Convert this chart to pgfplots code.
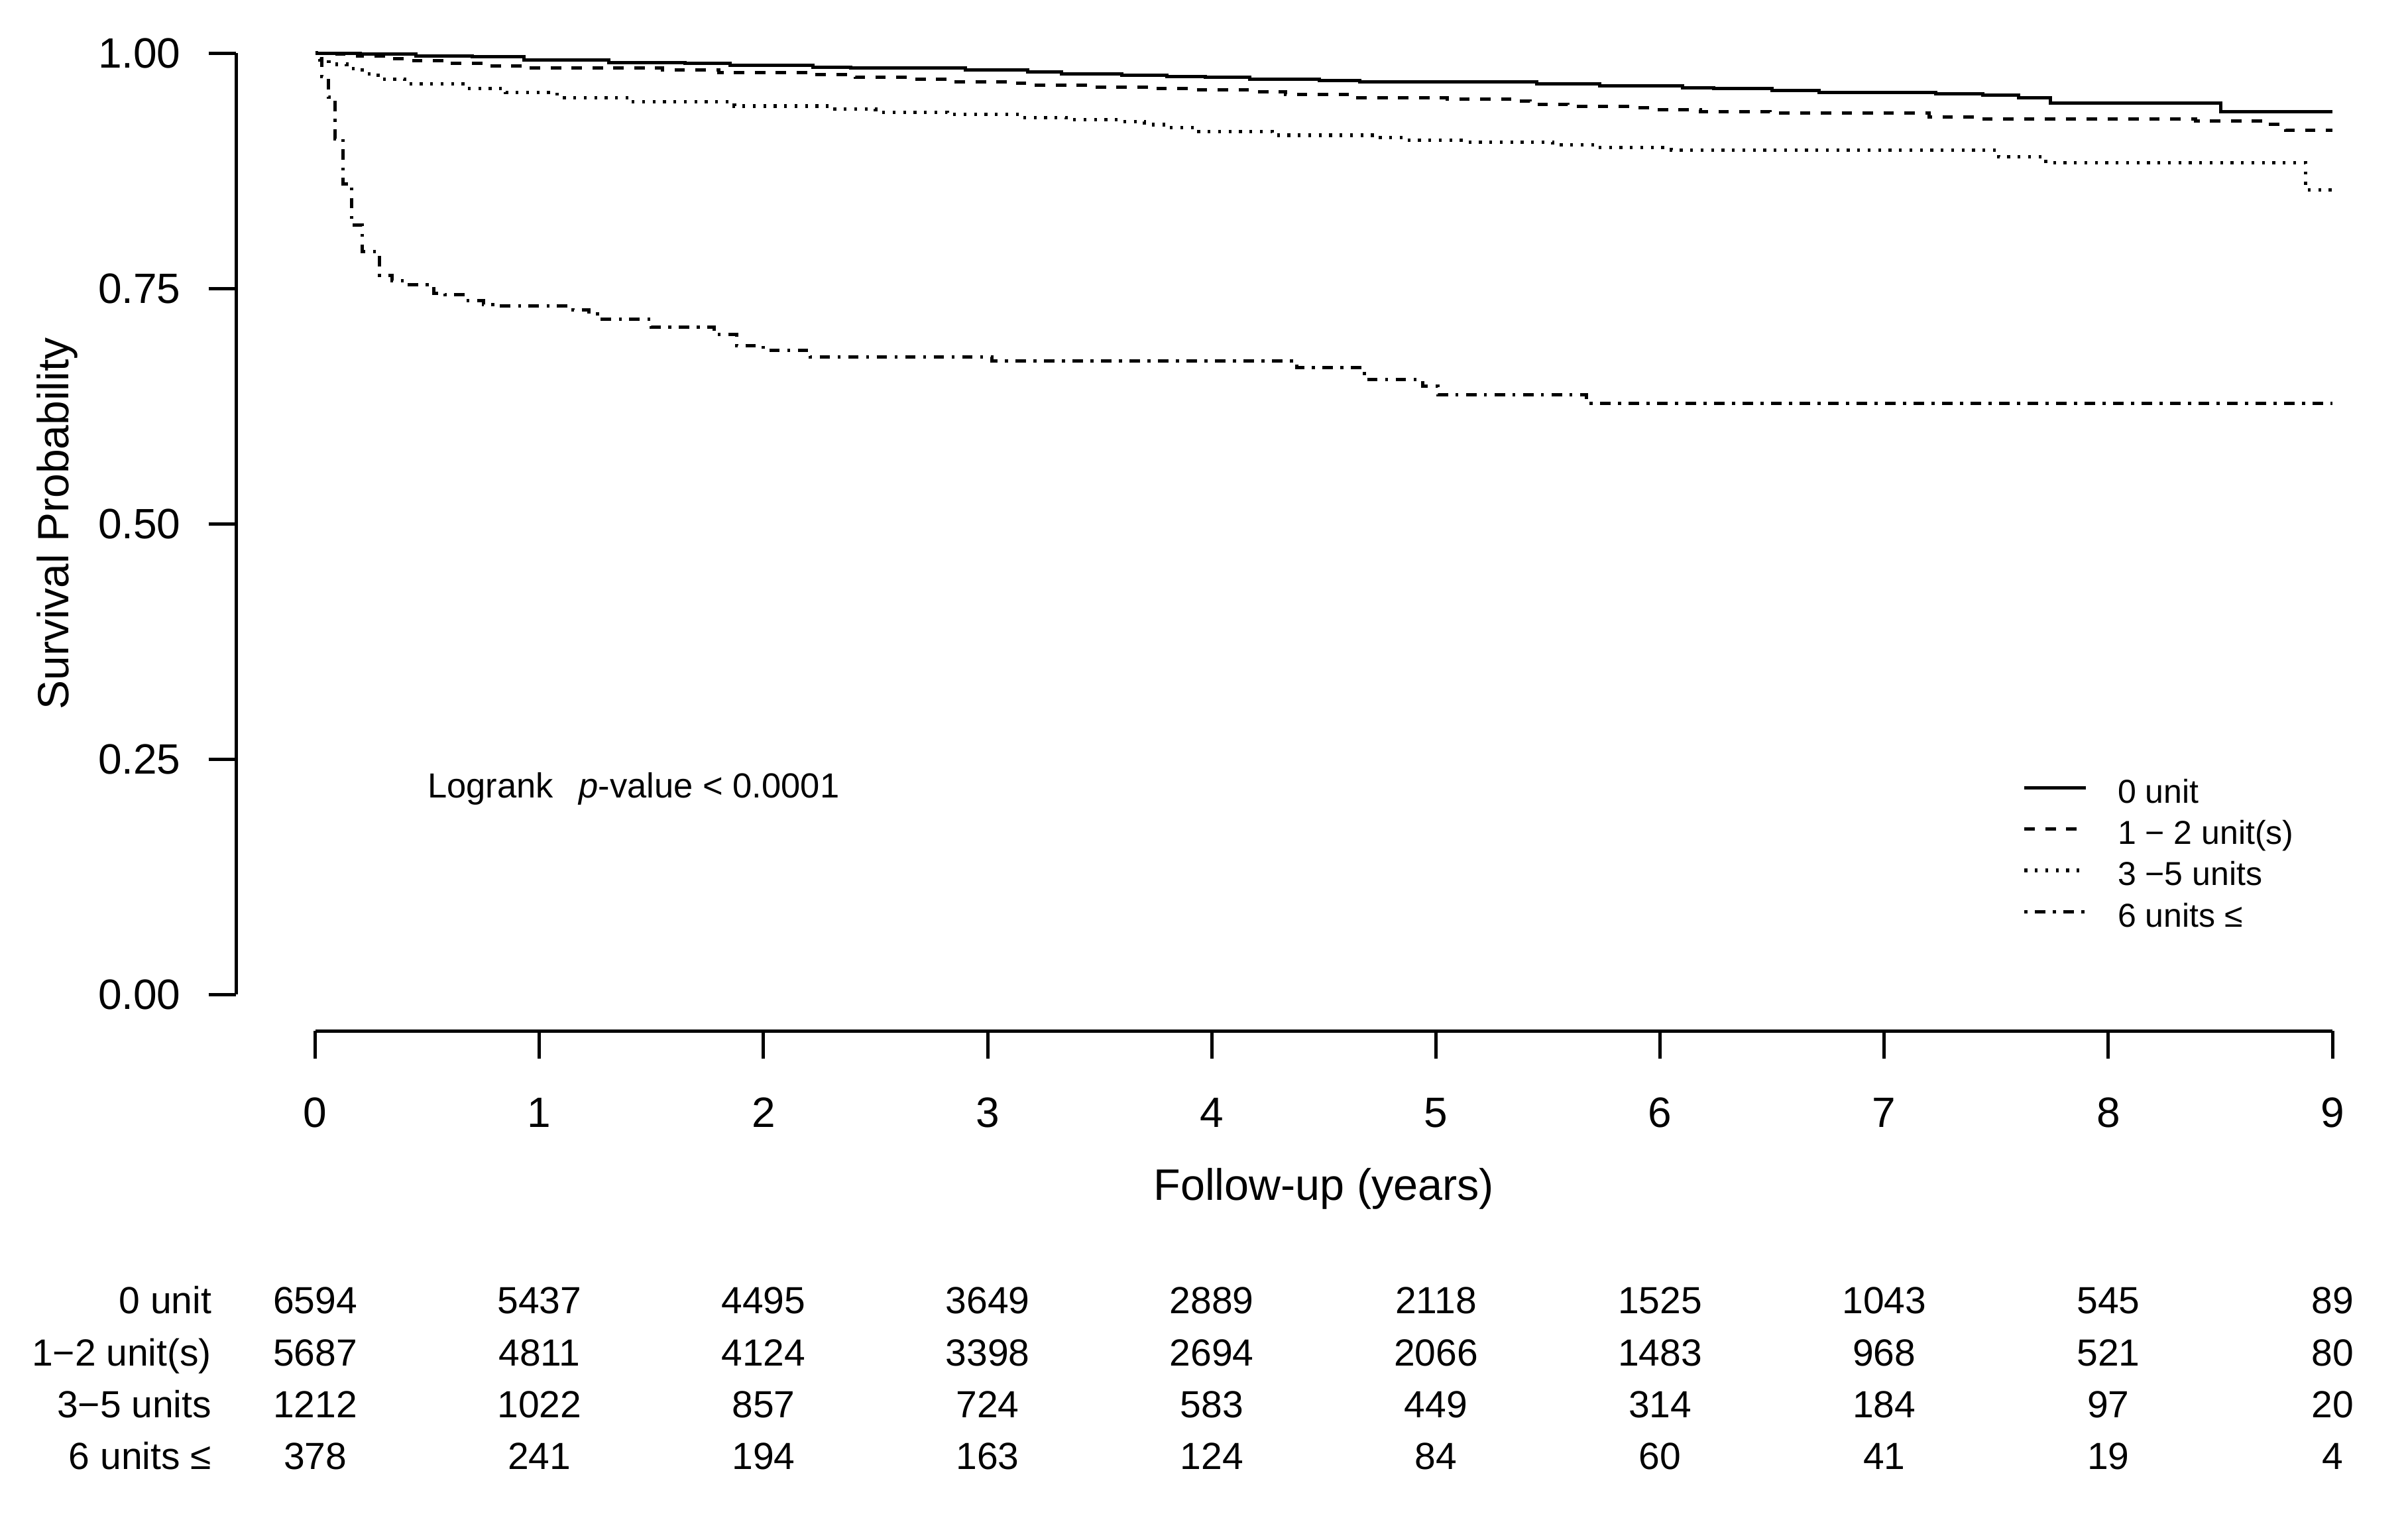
\documentclass[border=0pt]{standalone}
\usepackage{fontspec}
\setmainfont{Liberation Sans}
\usepackage{pgfplots}
\pgfplotsset{compat=1.18}

\tikzset{
  km0/.style={black, line width=1pt, solid},
  km1/.style={black, line width=1pt, dash pattern=on 3.15pt off 3.15pt},
  km2/.style={black, line width=1.05pt, dash pattern=on 0.85pt off 2.3pt},
  km3/.style={black, line width=1pt, dash pattern=on 0.85pt off 2.3pt on 3.15pt off 2.3pt},
  risk/.style={anchor=base, inner sep=0pt, font=\fontsize{11.4}{13}\selectfont},
  risklab/.style={anchor=base east, inner sep=0pt, font=\fontsize{11.4}{13}\selectfont},
}
% one number of the at-risk table: x, y (axis units), text
\newcommand{\rt}[3]{\node[risk] at (axis cs:#1,#2) {#3};}

\begin{document}
\begin{tikzpicture}
\path[use as bounding box] (0,0) rectangle (726.6pt,-460.4pt);

\begin{axis}[
  at={(95.12pt,-300pt)}, anchor=south west,
  scale only axis, width=608.7pt, height=284pt,
  xmin=0, xmax=9, ymin=0, ymax=1,
  axis lines=left,
  axis line style={-, line width=1pt},
  axis x line shift=11pt,
  axis y line shift=23.9pt,
  xtick={0,1,...,9},
  ytick={0,0.25,0.5,0.75,1},
  tick align=outside,
  major tick length=8.3pt,
  tick style={black, line width=1pt},
  /pgf/number format/assume math mode=true,
  ticklabel style={font=\fontsize{12.8}{15}\selectfont, inner sep=0pt},
  yticklabel style={/pgf/number format/fixed, /pgf/number format/fixed zerofill,
    /pgf/number format/precision=2, anchor=east, xshift=-8.2pt},
  xticklabel style={anchor=base, yshift=-20.7pt},
  xlabel={Follow-up (years)},
  ylabel={Survival Probability},
  xlabel style={at={(axis description cs:0.5,0)}, anchor=base, yshift=-62pt,
    inner sep=0pt, font=\fontsize{13.3}{16}\selectfont},
  ylabel style={at={(axis description cs:-0.128,0.5)}, anchor=center,
    inner sep=0pt, font=\fontsize{13.2}{16}\selectfont},
  clip=false,
  legend cell align=left,
  legend image code/.code={\draw[#1] (0pt,0pt) -- (18.6pt,0pt);},
  legend style={at={(axis cs:7.618,0.2384)}, anchor=north west,
    draw=none, fill=none, inner sep=0pt, outer sep=0pt,
    row sep=1.65pt, column sep=9pt,
    font=\fontsize{10}{12}\selectfont,
    nodes={inner sep=0pt, text height=10pt, text depth=0.8pt}},
]

% 0 unit
\addplot[km0, const plot] coordinates {
(0.00,1.000) (0.20,0.999) (0.45,0.997) (0.70,0.996) (0.93,0.9925)
(1.31,0.990) (1.65,0.989) (1.85,0.987) (2.22,0.985) (2.39,0.984)
(2.90,0.982) (3.18,0.980) (3.33,0.978) (3.60,0.9765) (3.80,0.975)
(3.97,0.974) (4.17,0.972) (4.48,0.971) (4.66,0.9695) (5.45,0.967)
(5.73,0.965) (6.10,0.963) (6.24,0.962) (6.50,0.9605) (6.71,0.958)
(7.23,0.957) (7.44,0.955) (7.60,0.9526) (7.74,0.947) (8.50,0.938)
(9.00,0.938)
};
\addlegendentry{0 unit}

% 1-2 units
\addplot[km1, const plot] coordinates {
(0.00,1.000) (0.05,0.999) (0.19,0.9965) (0.32,0.994) (0.44,0.992)
(0.58,0.989) (0.78,0.9864) (0.95,0.984) (1.55,0.9824) (1.80,0.979)
(2.22,0.977) (2.41,0.974) (2.67,0.972) (2.84,0.9695) (3.10,0.968)
(3.19,0.966) (3.45,0.964) (3.73,0.962) (3.92,0.9606) (4.18,0.959)
(4.33,0.956) (4.62,0.9526) (5.05,0.951) (5.34,0.949) (5.42,0.9455)
(5.59,0.943) (5.87,0.942) (5.96,0.940) (6.18,0.938) (6.49,0.936)
(7.20,0.932) (7.40,0.930) (8.39,0.928) (8.69,0.924) (8.79,0.918)
(9.00,0.918)
};
\addlegendentry{1 − 2 unit(s)}

% 3-5 units
\addplot[km2, const plot] coordinates {
(0.00,1.000) (0.02,0.993) (0.06,0.988) (0.14,0.9836) (0.21,0.978)
(0.28,0.972) (0.40,0.967) (0.68,0.9625) (0.85,0.958) (1.08,0.9526)
(1.40,0.948) (1.87,0.9437) (2.30,0.9406) (2.50,0.937) (2.82,0.9347)
(3.15,0.9315) (3.35,0.929) (3.60,0.927) (3.70,0.924) (3.80,0.921)
(3.92,0.9167) (4.27,0.9127) (4.73,0.910) (4.86,0.9073) (5.12,0.9054)
(5.52,0.9026) (5.72,0.8995) (6.05,0.897) (7.51,0.890) (7.72,0.8833)
(8.88,0.8545) (9.00,0.8545)
};
\addlegendentry{3 −5 units}

% 6 units or more
\addplot[km3, const plot] coordinates {
(0.000,1.000) (0.030,0.975) (0.059,0.953) (0.088,0.909) (0.125,0.861)
(0.163,0.817) (0.210,0.789) (0.286,0.764) (0.342,0.758) (0.420,0.754)
(0.530,0.745) (0.580,0.743) (0.670,0.737) (0.750,0.733) (0.820,0.731)
(1.150,0.727) (1.220,0.723) (1.270,0.717) (1.500,0.709) (1.780,0.701)
(1.880,0.689) (2.000,0.684) (2.210,0.677) (3.020,0.673) (4.380,0.666)
(4.680,0.653) (4.940,0.646) (5.010,0.637) (5.670,0.628) (9.000,0.628)
};
\addlegendentry{6 units ≤}

\node[anchor=base west, inner sep=0pt, font=\fontsize{10.5}{12}\selectfont]
  at (axis cs:0.498,0.2088) {Logrank\hspace{7.8pt}\textit{p}-value < 0.0001};

% numbers at risk
\node[risklab] at (axis cs:-0.4601,-0.3391) {0 unit};
\node[risklab] at (axis cs:-0.4601,-0.3944) {1−2 unit(s)};
\node[risklab] at (axis cs:-0.4601,-0.4496) {3−5 units};
\node[risklab] at (axis cs:-0.4601,-0.5046) {6 units ≤};

\rt{0}{-0.3391}{6594} \rt{1}{-0.3391}{5437} \rt{2}{-0.3391}{4495}
\rt{3}{-0.3391}{3649} \rt{4}{-0.3391}{2889} \rt{5}{-0.3391}{2118}
\rt{6}{-0.3391}{1525} \rt{7}{-0.3391}{1043} \rt{8}{-0.3391}{545}
\rt{9}{-0.3391}{89}

\rt{0}{-0.3944}{5687} \rt{1}{-0.3944}{4811} \rt{2}{-0.3944}{4124}
\rt{3}{-0.3944}{3398} \rt{4}{-0.3944}{2694} \rt{5}{-0.3944}{2066}
\rt{6}{-0.3944}{1483} \rt{7}{-0.3944}{968} \rt{8}{-0.3944}{521}
\rt{9}{-0.3944}{80}

\rt{0}{-0.4496}{1212} \rt{1}{-0.4496}{1022} \rt{2}{-0.4496}{857}
\rt{3}{-0.4496}{724} \rt{4}{-0.4496}{583} \rt{5}{-0.4496}{449}
\rt{6}{-0.4496}{314} \rt{7}{-0.4496}{184} \rt{8}{-0.4496}{97}
\rt{9}{-0.4496}{20}

\rt{0}{-0.5046}{378} \rt{1}{-0.5046}{241} \rt{2}{-0.5046}{194}
\rt{3}{-0.5046}{163} \rt{4}{-0.5046}{124} \rt{5}{-0.5046}{84}
\rt{6}{-0.5046}{60} \rt{7}{-0.5046}{41} \rt{8}{-0.5046}{19}
\rt{9}{-0.5046}{4}

\end{axis}
\end{tikzpicture}
\end{document}
